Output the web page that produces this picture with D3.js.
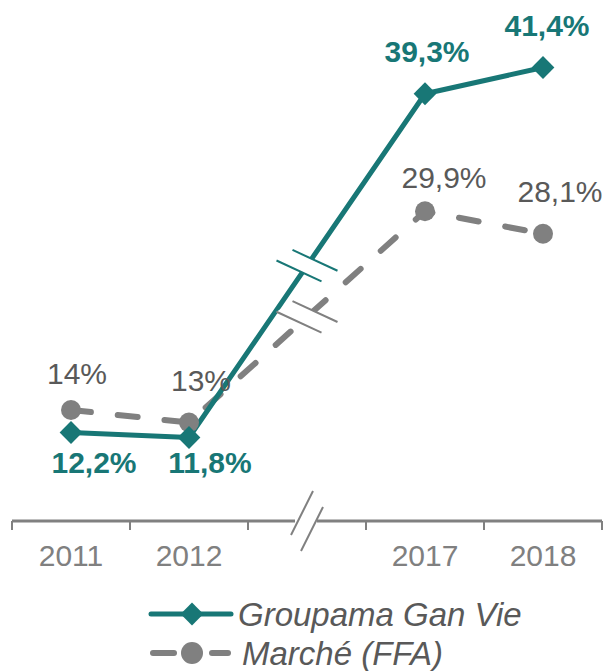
<!DOCTYPE html>
<html>
<head>
<meta charset="utf-8">
<script src="https://cdn.jsdelivr.net/npm/d3@7"></script>
<style>
  body { margin: 0; background: #fff; }
  text { font-family: "Liberation Sans", Arial, sans-serif; }
</style>
</head>
<body>
<div id="chart"></div>
<script>
// data
var years = ["2011", "2012", "", "2017", "2018"];
var groupama = [12.2, 11.8, null, 39.3, 41.4];
var marche = [14, 13, null, 29.9, 28.1];
var groupamaLabels = ["12,2%", "11,8%", "", "39,3%", "41,4%"];
var marcheLabels = ["14%", "13%", "", "29,9%", "28,1%"];

// label nudges (px) so they sit like the original
var gOff = [[23, 40], [21, 35], null, [2, -32], [4, -32]];
var mOff = [[6, -26], [12, -32], null, [19, -23], [17, -32]];

var width = 606, height = 671;
var teal = "#187776", grey = "#808080", textGrey = "#595959";

var svg = d3.select("#chart").append("svg").attr("width", width).attr("height", height);

var x = d3.scaleBand().domain(years).range([12, 602]).paddingInner(0);
var y = d3.scaleLinear().domain([5, 45]).range([522.5, 22.5]);
var axisY = 521;

function cx(i) { return x(years[i]) + x.bandwidth() / 2; }

// x axis: line with a gap, ticks between categories
var gapX = cx(2);
svg.append("line").attr("x1", 12).attr("x2", gapX - 12).attr("y1", axisY).attr("y2", axisY)
  .attr("stroke", grey).attr("stroke-width", 3);
svg.append("line").attr("x1", gapX + 10).attr("x2", 602).attr("y1", axisY).attr("y2", axisY)
  .attr("stroke", grey).attr("stroke-width", 3);

var edges = years.map(function(d) { return x(d); }).concat([602]);
svg.selectAll(".tick").data(edges).enter().append("line")
  .attr("x1", function(d) { return d; }).attr("x2", function(d) { return d; })
  .attr("y1", axisY).attr("y2", axisY + 9)
  .attr("stroke", grey).attr("stroke-width", 2);

var xAxis = svg.append("g").attr("transform", "translate(0," + axisY + ")")
  .call(d3.axisBottom(x).tickSize(0).tickPadding(24));
xAxis.select(".domain").remove();
xAxis.selectAll("text").attr("font-size", 30).attr("fill", grey)
  .attr("font-family", "Liberation Sans, Arial, sans-serif").attr("dy", "0.71em");

// axis break marks
[[-5, -8], [5, 8]].forEach(function(o) {
  svg.append("line")
    .attr("x1", gapX + o[0] + 11).attr("y1", axisY + o[1] - 22)
    .attr("x2", gapX + o[0] - 11).attr("y2", axisY + o[1] + 22)
    .attr("stroke", grey).attr("stroke-width", 2);
});

// lines
var idx = [0, 1, 3, 4];
var line = d3.line().x(function(i) { return cx(i); });

svg.append("path").datum(idx)
  .attr("d", line.y(function(i) { return y(marche[i]); }))
  .attr("fill", "none").attr("stroke", grey).attr("stroke-width", 6)
  .attr("stroke-linecap", "round").attr("stroke-dasharray", "20,27");

svg.append("path").datum(idx)
  .attr("d", line.y(function(i) { return y(groupama[i]); }))
  .attr("fill", "none").attr("stroke", teal).attr("stroke-width", 5)
  .attr("stroke-linejoin", "round");

// break marks on the 2012 -> 2017 segments
function lineBreak(series, color) {
  var mx = (cx(1) + cx(3)) / 2;
  var my = (y(series[1]) + y(series[3])) / 2;
  var a = [mx + 8, my - 5.3], b = [mx - 8, my + 5.3];
  var dx = 22.5, dy = 10.4;
  svg.append("polygon")
    .attr("points", [[a[0] - dx, a[1] - dy], [a[0] + dx, a[1] + dy], [b[0] + dx, b[1] + dy], [b[0] - dx, b[1] - dy]].join(" "))
    .attr("fill", "#fff");
  [a, b].forEach(function(c) {
    svg.append("line").attr("x1", c[0] - dx).attr("y1", c[1] - dy)
      .attr("x2", c[0] + dx).attr("y2", c[1] + dy)
      .attr("stroke", color).attr("stroke-width", 2);
  });
}
lineBreak(groupama, teal);
lineBreak(marche, grey);

// markers
svg.selectAll(".mdot").data(idx).enter().append("circle")
  .attr("cx", function(i) { return cx(i); })
  .attr("cy", function(i) { return y(marche[i]); })
  .attr("r", 10).attr("fill", grey);

var diamond = d3.symbol().type(d3.symbolDiamond2).size(330);
svg.selectAll(".gdot").data(idx).enter().append("path")
  .attr("d", diamond)
  .attr("transform", function(i) { return "translate(" + cx(i) + "," + y(groupama[i]) + ")"; })
  .attr("fill", teal);

// value labels
svg.selectAll(".mlab").data(idx).enter().append("text")
  .attr("x", function(i) { return cx(i) + mOff[i][0]; })
  .attr("y", function(i) { return y(marche[i]) + mOff[i][1]; })
  .attr("text-anchor", "middle").attr("font-size", 30).attr("fill", textGrey)
  .text(function(i) { return marcheLabels[i]; });

svg.selectAll(".glab").data(idx).enter().append("text")
  .attr("x", function(i) { return cx(i) + gOff[i][0]; })
  .attr("y", function(i) { return y(groupama[i]) + gOff[i][1]; })
  .attr("text-anchor", "middle").attr("font-size", 30).attr("font-weight", "bold").attr("fill", teal)
  .text(function(i) { return groupamaLabels[i]; });

// legend
var lg = svg.append("g");
lg.append("line").attr("x1", 151).attr("x2", 231).attr("y1", 614).attr("y2", 614)
  .attr("stroke", teal).attr("stroke-width", 5).attr("stroke-linecap", "round");
lg.append("path").attr("d", diamond).attr("transform", "translate(192,614)").attr("fill", teal);
lg.append("text").attr("x", 238).attr("y", 626).attr("font-size", 33).attr("font-style", "italic")
  .attr("fill", textGrey).text("Groupama Gan Vie");

lg.append("line").attr("x1", 153).attr("x2", 174).attr("y1", 653).attr("y2", 653)
  .attr("stroke", grey).attr("stroke-width", 6).attr("stroke-linecap", "round");
lg.append("line").attr("x1", 212).attr("x2", 228).attr("y1", 653).attr("y2", 653)
  .attr("stroke", grey).attr("stroke-width", 6).attr("stroke-linecap", "round");
lg.append("circle").attr("cx", 192).attr("cy", 653).attr("r", 11).attr("fill", grey);
lg.append("text").attr("x", 242).attr("y", 665).attr("font-size", 33).attr("font-style", "italic")
  .attr("fill", textGrey).text("Marché (FFA)");
</script>
</body>
</html>
